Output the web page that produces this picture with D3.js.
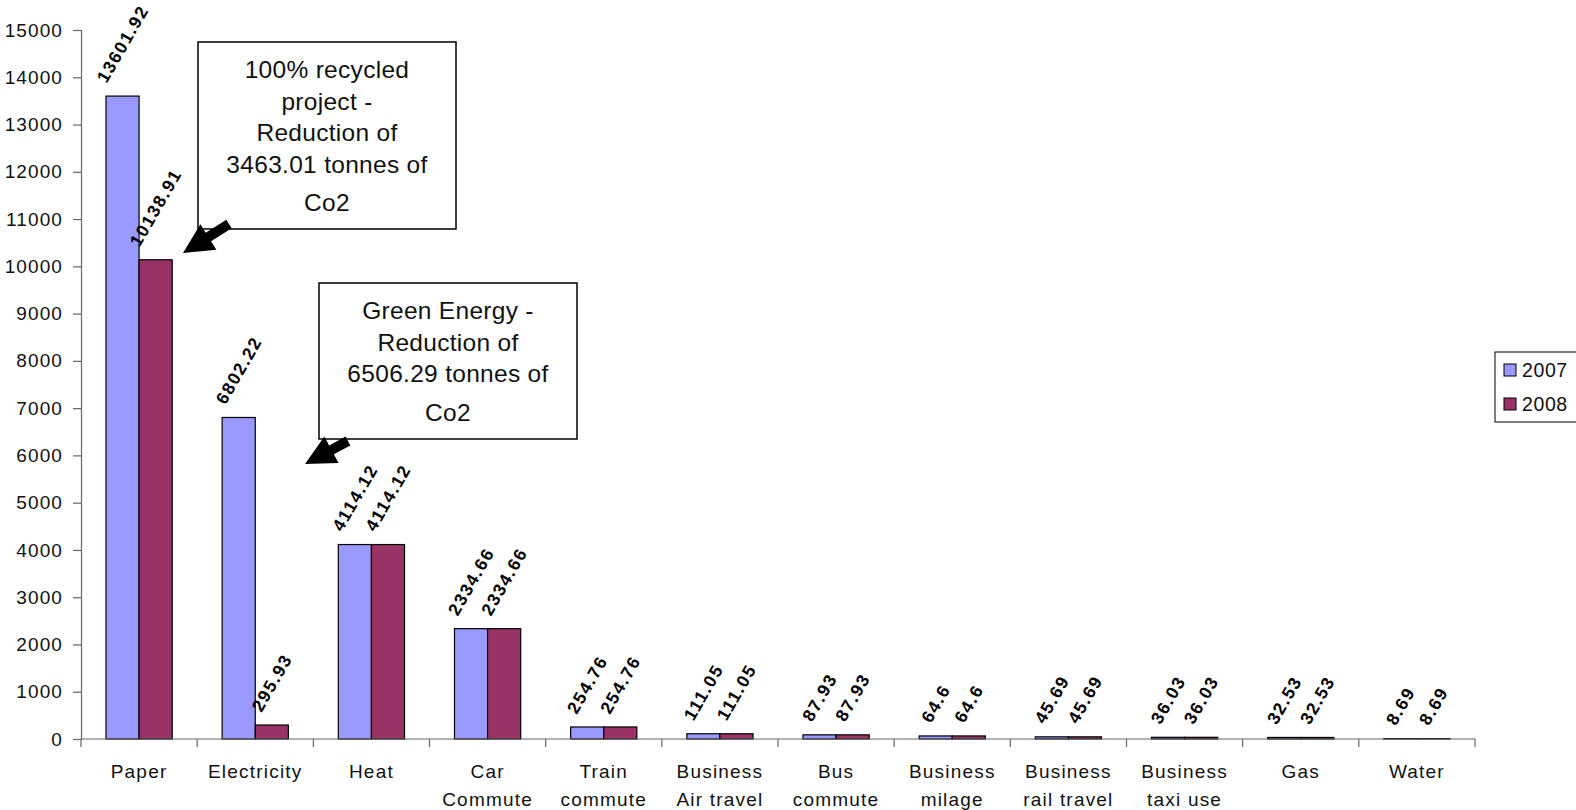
<!DOCTYPE html>
<html>
<head>
<meta charset="utf-8">
<script src="https://cdn.jsdelivr.net/npm/d3@7"></script>
<style>
  html, body { margin: 0; padding: 0; background: #fff; }
  svg { display: block; font-family: "Liberation Sans", Arial, sans-serif; }
</style>
</head>
<body>
<svg id="chart" width="1576" height="810"></svg>
<script>
// CO2 emissions by source (tonnes), 2007 vs 2008
const categories = [
  ["Paper"], ["Electricity"], ["Heat"], ["Car", "Commute"], ["Train", "commute"],
  ["Business", "Air travel"], ["Bus", "commute"], ["Business", "milage"],
  ["Business", "rail travel"], ["Business", "taxi use"], ["Gas"], ["Water"]
];
const series = ["2007", "2008"];
const values2007 = [13601.92, 6802.22, 4114.12, 2334.66, 254.76, 111.05, 87.93, 64.6, 45.69, 36.03, 32.53, 8.69];
const values2008 = [10138.91, 295.93, 4114.12, 2334.66, 254.76, 111.05, 87.93, 64.6, 45.69, 36.03, 32.53, 8.69];
const yTicks = [0, 1000, 2000, 3000, 4000, 5000, 6000, 7000, 8000, 9000, 10000, 11000, 12000, 13000, 14000, 15000];
const colors = { "2007": "#9999FF", "2008": "#993366" };

// Callout notes
const noteRecycled = ["100% recycled", "project -", "Reduction of", "3463.01 tonnes of", "Co2"];
const noteGreen = ["Green Energy -", "Reduction of", "6506.29 tonnes of", "Co2"];

const svg = d3.select("#chart");

const plot = { left: 81, right: 1475, top: 30, bottom: 739 };

const catKeys = categories.map(c => c.join(" "));
const x0 = d3.scaleBand().domain(catKeys).range([plot.left, plot.right]).paddingInner(0).paddingOuter(0);
const groupW = x0.bandwidth() * 0.57;
const x1 = d3.scaleBand().domain(series).range([0, groupW]).padding(0);
const y = d3.scaleLinear().domain([0, 15000]).range([plot.bottom, plot.top]);

const rows = catKeys.map((k, i) => ({ key: k, lines: categories[i], v: { "2007": values2007[i], "2008": values2008[i] } }));

// Y axis
const yAxis = svg.append("g")
  .attr("transform", `translate(${plot.left},0)`)
  .call(d3.axisLeft(y).tickValues(yTicks).tickSize(8).tickPadding(10).tickFormat(d3.format("d")));
yAxis.select(".domain").attr("stroke", "#666").attr("stroke-width", 1.2);
yAxis.selectAll(".tick line").attr("stroke", "#666").attr("stroke-width", 1.2);
yAxis.selectAll(".tick text")
  .attr("fill", "#111").style("font-size", "19px").style("letter-spacing", "1.1px")
  .style("font-family", "'Liberation Sans', Arial, sans-serif");

// Bars
const groups = svg.append("g").selectAll("g").data(rows).join("g")
  .attr("transform", d => `translate(${x0(d.key) + (x0.bandwidth() - groupW) / 2},0)`);

groups.selectAll("rect").data(d => series.map(s => ({ s, v: d.v[s] }))).join("rect")
  .attr("x", d => x1(d.s))
  .attr("y", d => y(d.v))
  .attr("width", x1.bandwidth())
  .attr("height", d => y(0) - y(d.v))
  .attr("fill", d => colors[d.s])
  .attr("stroke", "#000")
  .attr("stroke-width", 1.2);

// X axis line and tick marks at category boundaries
const xAxis = svg.append("g");
xAxis.append("line")
  .attr("x1", plot.left).attr("x2", plot.right)
  .attr("y1", y(0)).attr("y2", y(0))
  .attr("stroke", "#666").attr("stroke-width", 1.2);
const bounds = catKeys.map(k => x0(k)).concat([x0(catKeys[catKeys.length - 1]) + x0.bandwidth()]);
xAxis.selectAll("line.tick").data(bounds).join("line")
  .attr("class", "tick")
  .attr("x1", d => d).attr("x2", d => d)
  .attr("y1", y(0)).attr("y2", y(0) + 8)
  .attr("stroke", "#666").attr("stroke-width", 1.2);

// Category labels
const catLabels = xAxis.selectAll("text.cat").data(rows).join("text")
  .attr("class", "cat")
  .attr("x", d => x0(d.key) + x0.bandwidth() / 2)
  .attr("y", 778)
  .attr("text-anchor", "middle")
  .attr("fill", "#111")
  .style("font-size", "19px")
  .style("letter-spacing", "1.2px");
catLabels.selectAll("tspan").data(d => d.lines.map(t => ({ t, x: x0(d.key) + x0.bandwidth() / 2 }))).join("tspan")
  .attr("x", d => d.x)
  .attr("dy", (d, i) => i === 0 ? 0 : 28)
  .text(d => d.t);

// Value labels, rotated above each bar
const labelG = svg.append("g");
rows.forEach(r => {
  series.forEach(s => {
    const v = r.v[s];
    const cx = x0(r.key) + (x0.bandwidth() - groupW) / 2 + x1(s) + x1.bandwidth() / 2;
    const t = labelG.append("text")
      .attr("text-anchor", "start")
      .attr("fill", "#000")
      .style("font-size", "17.5px")
      .style("font-weight", "bold")
      .style("letter-spacing", "1.6px")
      .text(d3.format("")(v));
    const L = t.node().getComputedTextLength();
    const h = 12.5;
    const ang = 60 * Math.PI / 180;
    const px = cx - (Math.cos(ang) * L - Math.sin(ang) * h) / 2;
    const py = y(v) - 12;
    t.attr("transform", `translate(${px},${py}) rotate(-60)`);
  });
});

// Callout boxes
function callout(lines, box) {
  const g = svg.append("g");
  g.append("rect")
    .attr("x", box.x).attr("y", box.y).attr("width", box.w).attr("height", box.h)
    .attr("fill", "#fff").attr("stroke", "#000").attr("stroke-width", 1.5);
  g.selectAll("text").data(lines).join("text")
    .attr("x", box.x + box.w / 2)
    .attr("y", (d, i) => box.y + 36 + i * 31.5 + (i === lines.length - 1 ? 7 : 0))
    .attr("text-anchor", "middle")
    .attr("fill", "#111")
    .style("font-size", "24.5px")
    .style("letter-spacing", "0.3px")
    .text(d => d);
}
callout(noteRecycled, { x: 198, y: 42, w: 258, h: 187 });
callout(noteGreen, { x: 319, y: 283, w: 258, h: 156 });

// Block arrows pointing from the callouts to the bars
function blockArrow(tail, tip) {
  const dx = tip[0] - tail[0], dy = tip[1] - tail[1];
  const len = Math.hypot(dx, dy);
  const a = Math.atan2(dy, dx) * 180 / Math.PI;
  const sw = 5, hw = 15, hl = 30;
  const pts = [[0, -sw], [len - hl, -sw], [len - hl, -hw], [len, 0], [len - hl, hw], [len - hl, sw], [0, sw]];
  svg.append("polygon")
    .attr("points", pts.map(p => p.join(",")).join(" "))
    .attr("transform", `translate(${tail[0]},${tail[1]}) rotate(${a})`)
    .attr("fill", "#000");
}
blockArrow([229, 224], [183, 253]);
blockArrow([348, 441], [305, 464]);

// Legend
const legend = svg.append("g");
legend.append("rect")
  .attr("x", 1495).attr("y", 352).attr("width", 100).attr("height", 70)
  .attr("fill", "#fff").attr("stroke", "#000").attr("stroke-width", 1);
series.forEach((s, i) => {
  const cy = 370 + i * 34;
  legend.append("rect")
    .attr("x", 1504).attr("y", cy - 6).attr("width", 12).attr("height", 12)
    .attr("fill", colors[s]).attr("stroke", "#000").attr("stroke-width", 1);
  legend.append("text")
    .attr("x", 1522).attr("y", cy + 7)
    .attr("fill", "#111")
    .style("font-size", "19.5px")
    .style("letter-spacing", "0.6px")
    .text(s);
});
</script>
</body>
</html>
